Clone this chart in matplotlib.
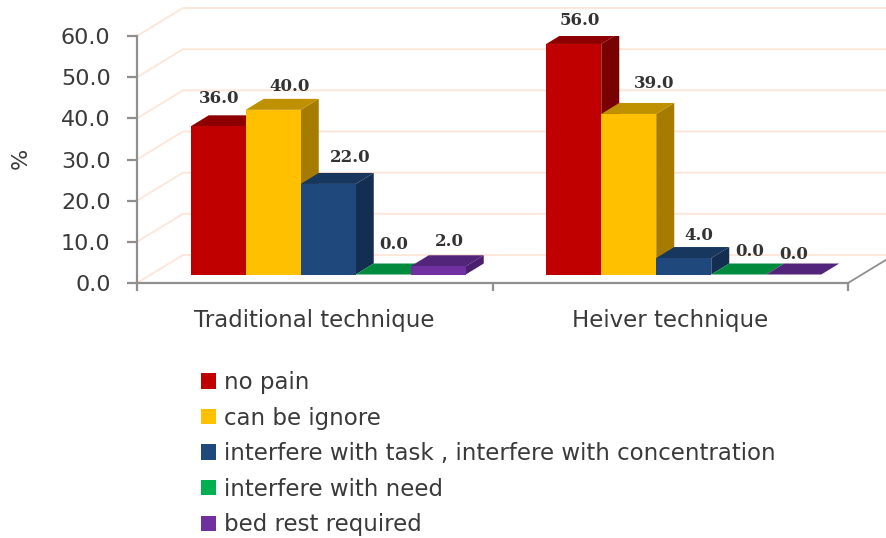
# -*- coding: utf-8 -*-
"""
Clustered bar chart with a drawn-on 3D look: pain score by technique.
"""

import matplotlib
matplotlib.use("Agg")
import matplotlib.pyplot as plt
from matplotlib.patches import Patch, Polygon

categories = ["Traditional technique", "Heiver technique"]
series_names = [
    "no pain",
    "can be ignore",
    "interfere with task , interfere with concentration",
    "interfere with need",
    "bed rest required",
]
no_pain = [36.0, 56.0]
can_be_ignore = [40.0, 39.0]
interfere_task = [22.0, 4.0]
interfere_need = [0.0, 0.0]
bed_rest = [2.0, 0.0]
series_values = [no_pain, can_be_ignore, interfere_task, interfere_need, bed_rest]
y_ticks = [0, 10, 20, 30, 40, 50, 60]

# front, top and side shades for each series
FRONT = ["#c00000", "#ffc000", "#1f497d", "#00b050", "#7030a0"]
TOP = ["#8e0000", "#bf9000", "#17375e", "#008a3e", "#52247a"]
SIDE = ["#780000", "#a67c00", "#142e52", "#006e32", "#4a1f6e"]

GRID = "#fde6d8"
AXIS = "#8f8f8f"
TEXT = "#3a3a3a"

W, H = 886, 538
AX_L, AX_R, AX_TOP, AX_BOT = 137, 848, 36, 283
XLIM = (-0.5, 1.5)
YLIM = (0, 60)

# pixels to data units
PX_X = (XLIM[1] - XLIM[0]) / (AX_R - AX_L)
PX_Y = (YLIM[1] - YLIM[0]) / (AX_BOT - AX_TOP)

BAR_W = 55 * PX_X
DEPTH_X, DEPTH_Y = 18 * PX_X, 11 * PX_Y
FRONT_X, FRONT_Y = 13.5 * PX_X, 8.5 * PX_Y
WALL_X, WALL_Y = 46 * PX_X, 28 * PX_Y

# hand placed value labels, pixel offset from the bar's top centre (group, series)
LABEL_DX = [[0.5, 16.5, 21.5, 10.5, 11.5], [6.5, 25, 15.5, 11, 0]]
LABEL_DY = [[28, 23, 26, 30, 25], [23, 30, 23, 23, 20]]

plt.rcParams["font.family"] = "DejaVu Sans"

fig = plt.figure(figsize=(W / 100, H / 100), dpi=100, facecolor="white")
ax = fig.add_axes([AX_L / W, 1 - AX_BOT / H, (AX_R - AX_L) / W, (AX_BOT - AX_TOP) / H])
ax.set_xlim(*XLIM)
ax.set_ylim(*YLIM)
ax.patch.set_visible(False)

# back wall lines running in from the value axis
right_edge = XLIM[1] + (W - AX_R) * PX_X
for v in y_ticks:
    ax.plot([XLIM[0], XLIM[0] + WALL_X, right_edge], [v, v + WALL_Y, v + WALL_Y],
            color=GRID, lw=1.3, clip_on=False, zorder=1)

# floor edge on the right
ax.plot([XLIM[1], right_edge], [0, (W - AX_R) * PX_X / WALL_X * WALL_Y],
        color=AXIS, lw=1.3, clip_on=False, zorder=1)


def draw_bar(x, value, i):
    base = FRONT_Y
    top = FRONT_Y + value
    right = x + BAR_W
    ax.add_patch(Polygon([(right, base), (right + DEPTH_X, base + DEPTH_Y),
                          (right + DEPTH_X, top + DEPTH_Y), (right, top)],
                         facecolor=SIDE[i], lw=0, zorder=3))
    ax.add_patch(Polygon([(x, top), (x + DEPTH_X, top + DEPTH_Y),
                          (right + DEPTH_X, top + DEPTH_Y), (right, top)],
                         facecolor=TOP[i], lw=0, zorder=3))
    ax.add_patch(Polygon([(x, base), (right, base), (right, top), (x, top)],
                         facecolor=FRONT[i], lw=0, zorder=3))


for g in range(len(categories)):
    start = g + FRONT_X - BAR_W * len(series_values) / 2
    for i, vals in enumerate(series_values):
        x = start + i * BAR_W
        draw_bar(x, vals[g], i)
        ax.text(x + BAR_W / 2 + LABEL_DX[g][i] * PX_X,
                FRONT_Y + vals[g] + LABEL_DY[g][i] * PX_Y,
                f"{vals[g]:.1f}", family="DejaVu Serif", fontweight="bold", fontsize=12,
                color="#333333", ha="center", va="center", zorder=5)

for side in ["top", "right"]:
    ax.spines[side].set_visible(False)
for side in ["left", "bottom"]:
    ax.spines[side].set_color(AXIS)
    ax.spines[side].set_linewidth(1.6)

ax.set_yticks(y_ticks)
ax.set_yticklabels([f"{v:.1f}" for v in y_ticks], fontsize=16, color=TEXT)
ax.tick_params(axis="y", length=7, width=1.6, color=AXIS, pad=12)

ax.set_xticks([-0.5, 0.5, 1.5])
ax.set_xticklabels([])
ax.set_xticks([0, 1], minor=True)
ax.set_xticklabels(categories, minor=True, fontsize=16.5, color=TEXT)
ax.tick_params(axis="x", which="major", length=6, width=1.6, color=AXIS)
ax.tick_params(axis="x", which="minor", length=0, pad=19)

fig.text(21 / W, 1 - 158 / H, "%", rotation=90, fontsize=16, color=TEXT, ha="center", va="center")

handles = [Patch(facecolor=c, edgecolor="none") for c in FRONT]
fig.legend(handles, series_names, loc="upper left", bbox_to_anchor=(201 / W, 1 - 371 / H),
           frameon=False, borderpad=0, borderaxespad=0,
           prop={"size": 16.5}, labelcolor=TEXT,
           handlelength=0.66, handleheight=0.66, handletextpad=0.35, labelspacing=0.55)

fig.savefig("out.png", dpi=100)
